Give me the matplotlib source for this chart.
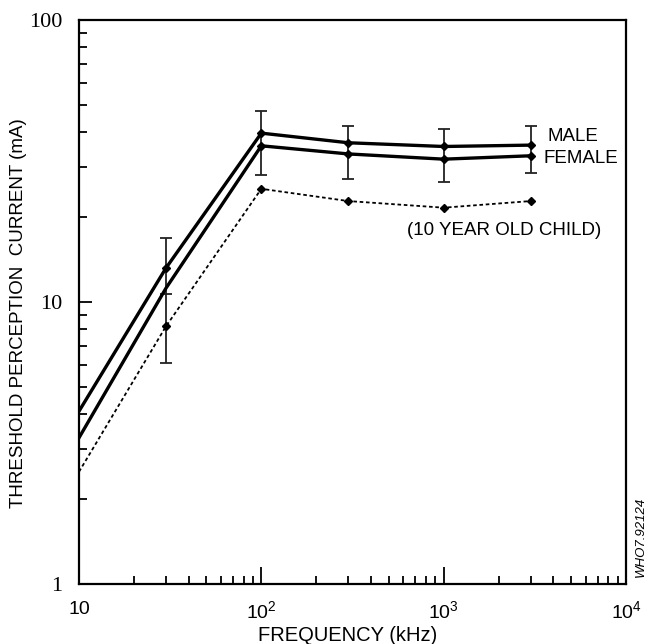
import numpy as np
import matplotlib
matplotlib.use('Agg')
import matplotlib.pyplot as plt

plt.rcParams['font.family'] = 'Liberation Sans'
plt.rcParams['mathtext.fontset'] = 'custom'
plt.rcParams['mathtext.rm'] = 'Liberation Sans'
plt.rcParams['mathtext.it'] = 'Liberation Sans:italic'

# данные
freq = [10, 30, 100, 300, 1000, 3000]
male = [4.1, 13.2, 39.7, 36.7, 35.6, 36.0]
female = [3.3, 11.2, 35.8, 33.5, 32.1, 33.0]
child = [2.5, 8.2, 25.2, 22.8, 21.6, 22.8]

# разброс (вертикальные отрезки)
err_freq = [30, 100, 300, 1000, 3000]
err_hi = [16.9, 47.7, 42.1, 41.0, 42.1]
err_lo = [6.1, 28.2, 27.4, 26.6, 28.6]
mid_cap_freq = [30]
mid_cap_val = [10.7]

x_ticks = [10, 100, 1000, 10000]
x_tick_labels = ['10', r'$\mathregular{10^2}$', r'$\mathregular{10^3}$', r'$\mathregular{10^4}$']
y_ticks = [1, 10, 100]
y_tick_labels = ['1', '10', '100']

fig = plt.figure(figsize=(6.55, 6.44), dpi=100)
ax = fig.add_axes([79 / 655, 60 / 644, 547 / 655, 564 / 644])

# вертикальные отрезки разброса
for x, lo, hi in zip(err_freq, err_lo, err_hi):
    mid = np.sqrt(lo * hi)
    ax.errorbar([x], [mid], yerr=[[mid - lo], [hi - mid]], fmt='none',
                ecolor='#222222', elinewidth=1.3, capsize=4, capthick=1.3, zorder=2)
ax.plot(mid_cap_freq, mid_cap_val, linestyle='none', marker='_', markersize=8,
        markeredgewidth=1.3, color='#222222', zorder=2)

# линии
ax.plot(freq, male, color='black', lw=2.4, zorder=3)
ax.plot(freq, female, color='black', lw=2.4, zorder=3)
ax.plot(freq, child, color='black', lw=1.3, linestyle=(0, (2, 1.5)), zorder=3)

# маркеры
ax.plot(freq[1:], male[1:], linestyle='none', marker='D', markersize=4, color='black', zorder=4)
ax.plot(freq[2:], female[2:], linestyle='none', marker='D', markersize=4, color='black', zorder=4)
ax.plot(freq[1:], child[1:], linestyle='none', marker='D', markersize=4, color='black', zorder=4)

ax.set_xscale('log')
ax.set_yscale('log')
ax.set_xlim(10, 10000)
ax.set_ylim(1, 100)

ax.set_xticks(x_ticks)
ax.set_xticklabels(x_tick_labels, fontsize=14)
ax.set_yticks(y_ticks)
ax.set_yticklabels(y_tick_labels, fontsize=16, fontfamily='Liberation Serif')

ax.tick_params(axis='both', which='major', direction='in', length=12, width=1.3)
ax.tick_params(axis='both', which='minor', direction='in', length=6, width=1.3)
ax.tick_params(axis='x', which='major', pad=12)
ax.tick_params(axis='y', which='major', pad=12, length=9)
ax.tick_params(top=False, right=False, which='both')
for s in ax.spines.values():
    s.set_linewidth(1.6)

ax.set_xlabel('FREQUENCY (kHz)', fontsize=14.5)
ax.xaxis.set_label_coords(0.491, -0.074)
ax.set_ylabel('THRESHOLD PERCEPTION  CURRENT (mA)', fontsize=13.5)
ax.yaxis.set_label_coords(-0.095, 0.481)

ax.text(3690, 38.5, 'MALE', fontsize=13.5, va='center', ha='left')
ax.text(3510, 32.4, 'FEMALE', fontsize=13.5, va='center', ha='left')
ax.text(630, 18.0, '(10 YEAR OLD CHILD)', fontsize=13.5, va='center', ha='left')

fig.text(641 / 655, 1 - 537 / 644, 'WHO7.92124', rotation=90, fontsize=9.5,
         style='italic', ha='center', va='center')

fig.savefig('out.png', dpi=100)
